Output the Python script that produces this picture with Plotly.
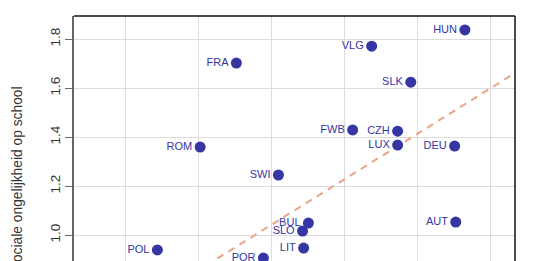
import plotly.graph_objects as go

countries = ["HUN", "VLG", "FRA", "SLK", "FWB", "CZH", "LUX", "DEU", "ROM",
             "SWI", "BUL", "SLO", "LIT", "POR", "AUT", "POL"]
x_vals = [1.529, 1.274, 0.904, 1.381, 1.222, 1.345, 1.345, 1.501, 0.805,
          1.019, 1.101, 1.085, 1.088, 0.978, 1.504, 0.688]
y_vals = [1.837, 1.771, 1.702, 1.624, 1.429, 1.424, 1.367, 1.363, 1.359,
          1.245, 1.049, 1.016, 0.947, 0.906, 1.053, 0.939]

fit_intercept = 0.112
fit_slope = 0.93

y_ticks = [1.0, 1.2, 1.4, 1.6, 1.8]
x_grid = [0.6, 0.8, 1.0, 1.2, 1.4, 1.6]
x_range = [0.46, 1.666]
y_range = [0.894, 1.894]

blue = "#3535a3"

fig = go.Figure()

fx = x_range
fy = [fit_intercept + fit_slope * v for v in fx]
fig.add_trace(go.Scatter(x=fx, y=fy, mode="lines",
                         line=dict(color="#eaa585", width=2, dash="7px,6px"),
                         hoverinfo="skip", showlegend=False))

fig.add_trace(go.Scatter(x=x_vals, y=y_vals, mode="markers+text",
                         text=countries, textposition="middle left",
                         textfont=dict(family="Liberation Sans, Arial, sans-serif", size=11, color=blue),
                         marker=dict(color=blue, size=11),
                         showlegend=False))

fig.update_layout(
    width=533, height=261,
    margin=dict(l=74, r=18, t=16, b=0),
    paper_bgcolor="white", plot_bgcolor="white",
    font=dict(family="Liberation Sans, Arial, sans-serif", color="#333333"),
    xaxis=dict(range=x_range, tickvals=x_grid, showticklabels=False,
               showgrid=True, gridcolor="#dcdcdc", gridwidth=1,
               zeroline=False, showline=False, ticks=""),
    yaxis=dict(range=y_range, tickvals=y_ticks, ticktext=["1.0", "1.2", "1.4", "1.6", "1.8"],
               tickangle=-90, ticks="outside", ticklen=7, tickcolor="#666666",
               tickfont=dict(size=13.5, color="#333333"),
               showgrid=True, gridcolor="#dcdcdc", gridwidth=1,
               zeroline=False, showline=True, linecolor="#666666", linewidth=1.5),
    shapes=[
        dict(type="line", xref="paper", yref="paper", x0=0, x1=1, y0=1, y1=1,
             line=dict(color="#111111", width=1.5)),
        dict(type="line", xref="paper", yref="paper", x0=1, x1=1, y0=0, y1=1,
             line=dict(color="#111111", width=1.5)),
    ],
    annotations=[
        dict(text="sociale ongelijkheid op school", xref="paper", yref="paper",
             x=-0.127, y=0.343, textangle=-90, showarrow=False,
             xanchor="center", yanchor="middle",
             font=dict(size=13.8, color="#333333"))
    ],
)

fig.write_html("out.html")
